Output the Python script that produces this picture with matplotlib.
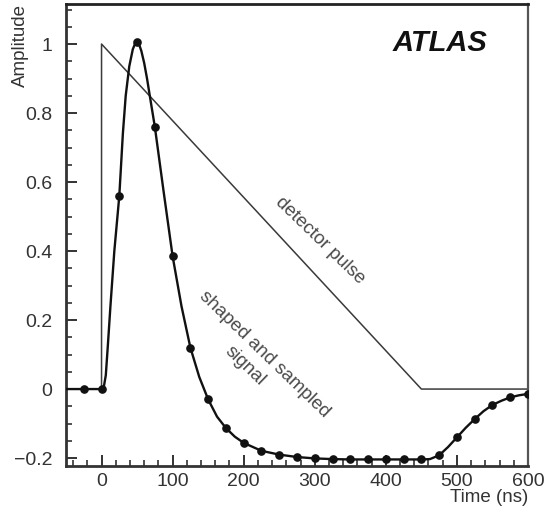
import matplotlib
matplotlib.use("Agg")
import matplotlib.pyplot as plt
from matplotlib.ticker import MultipleLocator, FixedLocator

plt.rcParams['font.family'] = ['Liberation Sans', 'DejaVu Sans']

# Detector pulse (triangular)
pulse_t = [-50, 0, 0, 450, 600]
pulse_v = [0, 0, 1.0, 0, 0]

# Shaped signal curve
curve_t = [-50, -25, 0, 3, 6, 9, 12.5, 18, 25, 30, 34, 39, 44, 47, 50, 53,
           56, 60, 64, 67.5, 75, 87.5, 100, 112.5, 125, 137.5, 150, 162.5,
           175, 187.5, 200, 225, 250, 275, 300, 325, 350, 375, 400, 425, 450,
           462, 475, 487.5, 500, 512.5, 525, 537.5, 550, 562.5, 575, 587.5,
           600]
curve_v = [0, 0, 0, 0.004, 0.04, 0.13, 0.24, 0.40, 0.56, 0.74, 0.85, 0.935,
           0.985, 1.0, 1.005, 0.998, 0.98, 0.945, 0.90, 0.855, 0.76, 0.57,
           0.385, 0.24, 0.12, 0.035, -0.03, -0.08, -0.113, -0.138, -0.156,
           -0.179, -0.19, -0.197, -0.201, -0.203, -0.204, -0.204, -0.204,
           -0.204, -0.204, -0.203, -0.192, -0.168, -0.14, -0.112, -0.087,
           -0.064, -0.046, -0.034, -0.024, -0.018, -0.014]

# Samples every 25 ns
sample_t = [-25, 0, 25, 50, 75, 100, 125, 150, 175, 200, 225, 250, 275, 300,
            325, 350, 375, 400, 425, 450, 475, 500, 525, 550, 575, 600]
sample_v = [0, 0, 0.56, 1.005, 0.76, 0.385, 0.12, -0.03, -0.113, -0.156,
            -0.179, -0.19, -0.197, -0.201, -0.203, -0.204, -0.204, -0.204,
            -0.204, -0.204, -0.192, -0.14, -0.087, -0.046, -0.024, -0.014]

x_ticks = [0, 100, 200, 300, 400, 500, 600]
y_ticks = [-0.2, 0, 0.2, 0.4, 0.6, 0.8, 1.0]
y_labels = ['\u22120.2', '0', '0.2', '0.4', '0.6', '0.8', '1']

fig = plt.figure(figsize=(5.46, 5.14), dpi=100)
ax = fig.add_axes([66/546, 48/514, (528-66)/546, (466-4)/514])

ax.plot(pulse_t, pulse_v, color='#3a3a3a', lw=1.1, zorder=2)
ax.plot(curve_t, curve_v, color='#111111', lw=1.7, zorder=3)
ax.plot(sample_t, sample_v, 'o', color='#111111', ms=5.2, zorder=4)

ax.set_xlim(-50, 600)
ax.set_ylim(-0.223, 1.116)

ax.set_xticks(x_ticks)
ax.set_xticklabels([str(v) for v in x_ticks])
ax.xaxis.set_minor_locator(MultipleLocator(20))
ax.set_yticks(y_ticks)
ax.set_yticklabels(y_labels)
ax.yaxis.set_minor_locator(MultipleLocator(0.05))

ax.tick_params(axis='both', which='both', direction='in', colors='#333333',
               labelsize=14, top=False, right=False)
ax.tick_params(axis='both', which='major', length=8, width=1.4)
ax.tick_params(axis='both', which='minor', length=4.5, width=1.2)
ax.tick_params(axis='y', which='major', pad=10)
ax.tick_params(axis='x', which='major', pad=5)

for s in ['left', 'bottom']:
    ax.spines[s].set_linewidth(2.0)
    ax.spines[s].set_color('#333333')
ax.spines['top'].set_linewidth(2.0)
ax.spines['top'].set_color('#222222')
ax.spines['right'].set_linewidth(1.6)
ax.spines['right'].set_color('#555555')

fig.text(20/546, 1 - 4/514, 'Amplitude', rotation=90, ha='center', va='top',
         fontsize=13.5, color='#333333')
fig.text(528/546, 1 - 498/514, 'Time (ns)', ha='right', va='center',
         fontsize=13.5, color='#333333')

ax.text(308, 0.429, 'detector pulse', rotation=-44, ha='center', va='center',
        rotation_mode='anchor', fontsize=13.5, color='#4a4a4a')
ax.text(229.6, 0.101, 'shaped and sampled', rotation=-44, ha='center',
        va='center', rotation_mode='anchor', fontsize=13.5, color='#4a4a4a')
ax.text(201.5, 0.067, 'signal', rotation=-44, ha='center', va='center',
        rotation_mode='anchor', fontsize=13.5, color='#4a4a4a')

ax.text(440/546, 1 - 43/514, 'ATLAS', transform=fig.transFigure,
        ha='center', va='center', fontsize=21, fontweight='bold',
        fontstyle='italic', color='#111111')

fig.savefig('out.png', dpi=100)
